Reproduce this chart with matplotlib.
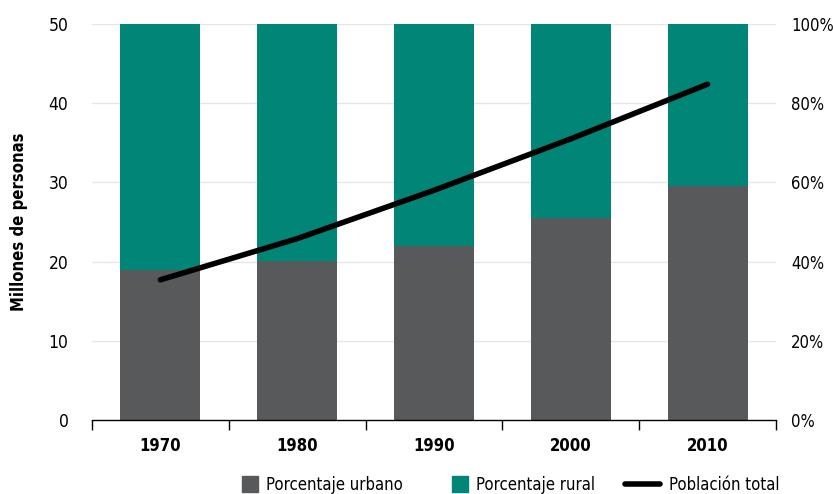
import matplotlib
matplotlib.use("Agg")
import matplotlib.pyplot as plt
from matplotlib.lines import Line2D
from matplotlib.patches import Patch, Rectangle
from matplotlib.legend_handler import HandlerPatch
import numpy as np

years = ["1970", "1980", "1990", "2000", "2010"]
urbano = [38.0, 40.2, 43.9, 51.0, 59.0]
rural = [100 - u for u in urbano]
poblacion = [17.7, 22.9, 29.0, 35.5, 42.4]

GRAY = "#58595b"
TEAL = "#008576"

plt.rcParams['font.family'] = ['DejaVu Sans']
plt.rcParams['font.stretch'] = 'condensed'

fig = plt.figure(figsize=(8.33, 4.94), dpi=100)
ax = fig.add_axes([92/833, 1 - 420/494, 684/833, 396/494])
ax2 = ax.twinx()

x = np.arange(len(years))
ax2.bar(x, urbano, width=0.585, color=GRAY, zorder=2)
ax2.bar(x, rural, width=0.585, bottom=urbano, color=TEAL, zorder=2)
ax2.set_ylim(0, 100)
ax2.set_yticks(range(0, 101, 20))
ax2.set_yticklabels([f"{v}%" for v in range(0, 101, 20)])

ax.plot(x, poblacion, color="black", lw=4, solid_capstyle="round", zorder=3)
ax.set_ylim(0, 50)
ax.set_yticks(range(0, 51, 10))
ax.set_xlim(-0.5, 4.5)
ax.set_zorder(ax2.get_zorder() + 1)
ax.patch.set_visible(False)

for v in range(10, 51, 10):
    ax2.axhline(v * 2, color="#e6e6e6", lw=1, zorder=0)

for a in (ax, ax2):
    for s in ("top", "right", "left"):
        a.spines[s].set_visible(False)
    a.spines["bottom"].set_color("black")
    a.spines["bottom"].set_linewidth(1)
ax2.spines["bottom"].set_visible(False)

ax.set_xticks(x)
ax.set_xticklabels(years, fontsize=12, fontweight="bold")
ax.set_xticks(np.arange(-0.5, 5, 1), minor=True)
ax.tick_params(axis="x", which="major", length=0, pad=12)
ax.tick_params(axis="x", which="minor", length=7, width=1, direction="out")
ax.tick_params(axis="y", length=0, labelsize=12.5, pad=17)
ax2.tick_params(axis="y", length=0, labelsize=12, pad=11)

ax.set_ylabel("Millones de personas", fontsize=12, fontweight="bold")
ax.yaxis.set_label_coords(-0.094, 0.5)


def square_right(legend, orig_handle, xdescent, ydescent, width, height, fontsize):
    s = 11.5
    return Rectangle((-xdescent + width - s, -ydescent + (height - s) / 2), s, s)


handles = [Patch(color=GRAY, label="Porcentaje urbano"),
           Patch(color=TEAL, label="Porcentaje rural"),
           Line2D([], [], color="black", lw=4, solid_capstyle="round", label="Población total")]
fig.legend(handles=handles, loc="lower center", bbox_to_anchor=(0.6015, -0.031), ncol=3,
           frameon=False, fontsize=12, handlelength=2.1,
           columnspacing=1.8, handletextpad=0.5,
           handler_map={Patch: HandlerPatch(patch_func=square_right)})

fig.savefig("out.png", dpi=100)
